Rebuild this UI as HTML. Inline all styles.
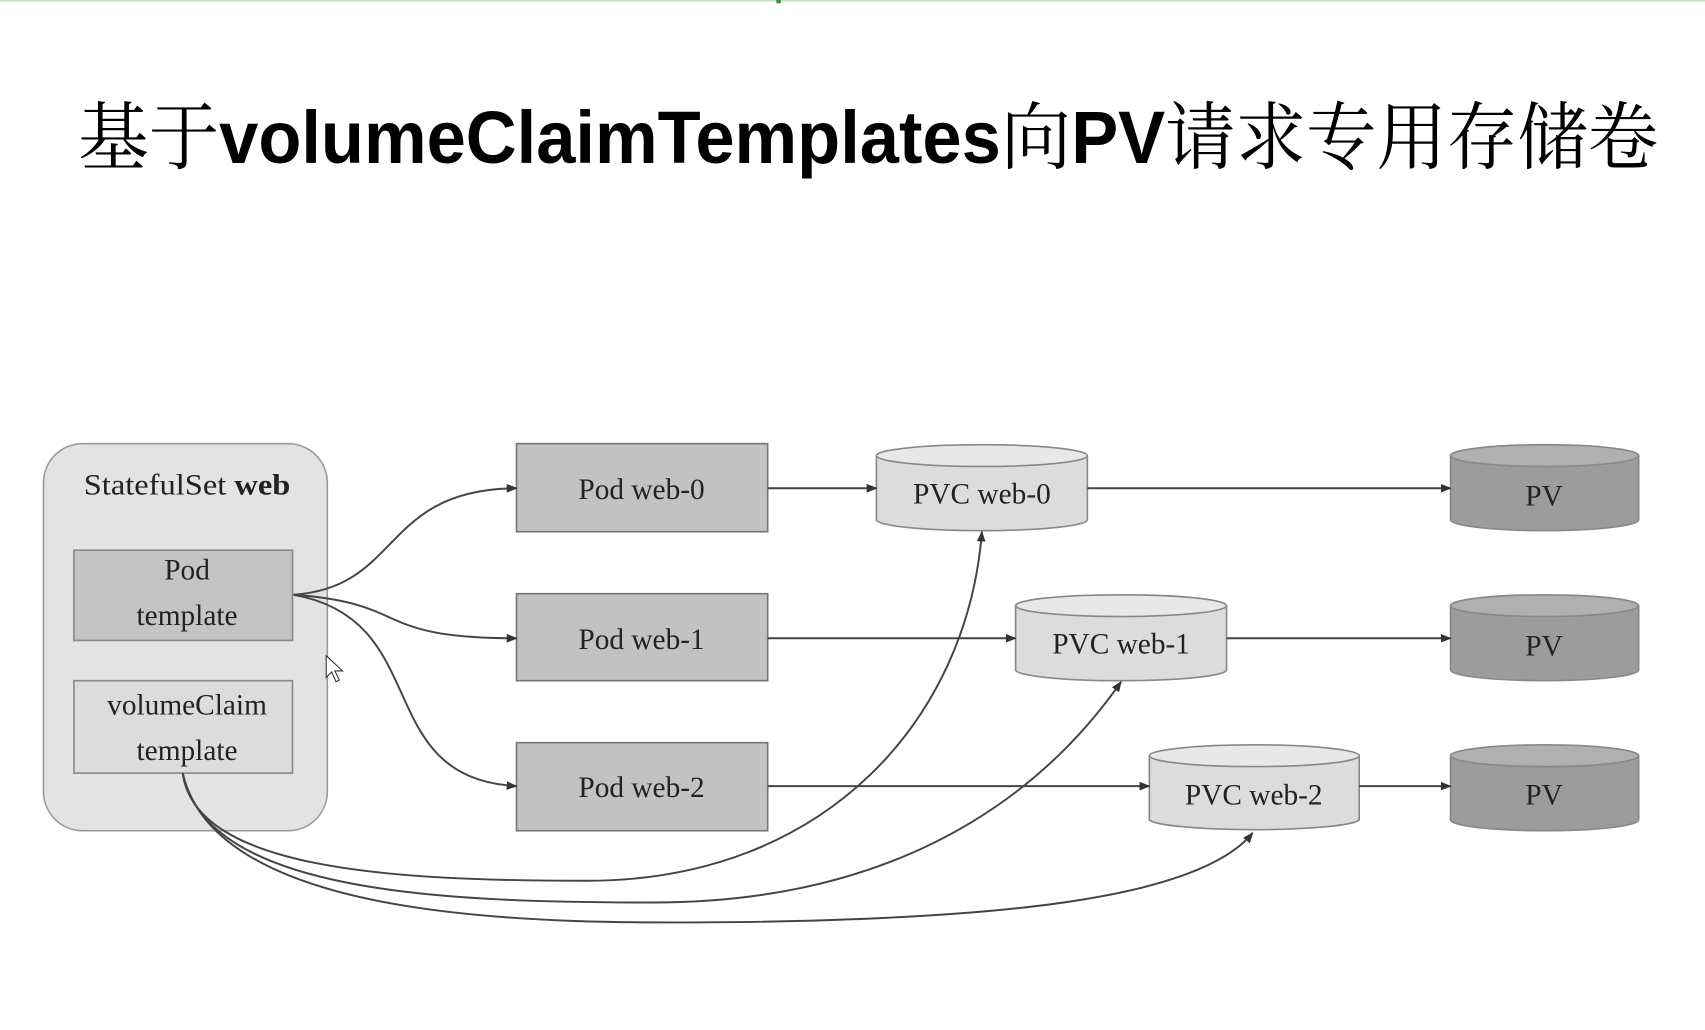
<!DOCTYPE html>
<html><head><meta charset="utf-8"><style>
html,body{margin:0;padding:0;background:#fff;width:1705px;height:1030px;overflow:hidden}
svg{display:block}
.t{font-family:"Liberation Serif","Noto Serif CJK SC",serif;font-size:27px;fill:#222;text-anchor:middle}
</style></head><body>
<svg width="1705" height="1030" viewBox="0 0 1568 947.25" xmlns="http://www.w3.org/2000/svg">
<defs>
<marker id="a" markerWidth="10" markerHeight="10" refX="9" refY="5" orient="auto" markerUnits="userSpaceOnUse"><path d="M0,1 L10,5 L0,9 z" fill="#333"/></marker>
</defs>
<line x1="0" y1="0.8" x2="1568" y2="0.8" stroke="#bfe3c0" stroke-width="1.5"/>
<rect x="714" y="0" width="4" height="3" fill="#2a9a2a"/>
<text x="72" y="150" font-size="68" textLength="1453" lengthAdjust="spacingAndGlyphs" fill="#000"><tspan font-family="Noto Serif CJK SC,serif">基于</tspan><tspan font-family="Liberation Sans,sans-serif" font-weight="bold">volumeClaimTemplates</tspan><tspan font-family="Noto Serif CJK SC,serif">向</tspan><tspan font-family="Liberation Sans,sans-serif" font-weight="bold">PV</tspan><tspan font-family="Noto Serif CJK SC,serif">请求专用存储卷</tspan></text>

<rect x="40" y="408" width="261" height="356" rx="36" fill="#e3e3e3" stroke="#9a9a9a" stroke-width="1.5"/>
<text class="t" x="172" y="455" textLength="190" lengthAdjust="spacingAndGlyphs">StatefulSet <tspan font-weight="bold">web</tspan></text>
<rect x="68" y="506" width="201" height="83" fill="#c4c4c4" stroke="#8a8a8a" stroke-width="1.5"/>
<text class="t" x="172" y="533">Pod</text><text class="t" x="172" y="575">template</text>
<rect x="68" y="626" width="201" height="85" fill="#dcdcdc" stroke="#8a8a8a" stroke-width="1.5"/>
<text class="t" x="172" y="657">volumeClaim</text><text class="t" x="172" y="699">template</text>

<g fill="#c2c2c2" stroke="#777" stroke-width="1.5">
<rect x="475" y="408" width="231" height="81"/>
<rect x="475" y="546" width="231" height="80"/>
<rect x="475" y="683" width="231" height="81"/>
</g>
<text class="t" x="590" y="459">Pod web-0</text>
<text class="t" x="590" y="597">Pod web-1</text>
<text class="t" x="590" y="733">Pod web-2</text>

<g stroke="#888" stroke-width="1.5">
<path d="M806,419 V478 A97,10 0 0 0 1000,478 V419" fill="#dcdcdc"/><ellipse cx="903" cy="419" rx="97" ry="10" fill="#e8e8e8"/>
<path d="M934,557 V616 A97,10 0 0 0 1128,616 V557" fill="#dcdcdc"/><ellipse cx="1031" cy="557" rx="97" ry="10" fill="#e8e8e8"/>
<path d="M1057,695 V754 A97,10 0 0 0 1250,754 V695" fill="#dcdcdc"/><ellipse cx="1153.5" cy="695" rx="96.5" ry="10" fill="#e8e8e8"/>
<path d="M1334,419 V478 A86.5,10 0 0 0 1507,478 V419" fill="#9c9c9c"/><ellipse cx="1420.5" cy="419" rx="86.5" ry="10" fill="#b0b0b0"/>
<path d="M1334,557 V616 A86.5,10 0 0 0 1507,616 V557" fill="#9c9c9c"/><ellipse cx="1420.5" cy="557" rx="86.5" ry="10" fill="#b0b0b0"/>
<path d="M1334,695 V754 A86.5,10 0 0 0 1507,754 V695" fill="#9c9c9c"/><ellipse cx="1420.5" cy="695" rx="86.5" ry="10" fill="#b0b0b0"/>
</g>
<text class="t" x="903" y="463">PVC web-0</text>
<text class="t" x="1031" y="601">PVC web-1</text>
<text class="t" x="1153" y="740">PVC web-2</text>
<text class="t" x="1420" y="465">PV</text>
<text class="t" x="1420" y="603">PV</text>
<text class="t" x="1420" y="740">PV</text>

<g fill="none" stroke="#444" stroke-width="1.8" marker-end="url(#a)">
<line x1="706" y1="449" x2="806" y2="449"/>
<line x1="1000" y1="449" x2="1334" y2="449"/>
<line x1="706" y1="587" x2="934" y2="587"/>
<line x1="1128" y1="587" x2="1334" y2="587"/>
<line x1="706" y1="723" x2="1057" y2="723"/>
<line x1="1250" y1="723" x2="1334" y2="723"/>
<path d="M270,547 C370,540 350,450 475,449"/>
<path d="M270,547 C380,555 340,587 475,587"/>
<path d="M270,547 C400,570 340,715 475,723"/>
<path d="M168,711 C180,800 360,810 540,810 C760,810 890,660 903,489"/>
<path d="M168,711 C190,820 400,830 600,830 C860,830 980,700 1031,627"/>
<path d="M168,711 C200,850 500,850 680,848 C900,845 1100,830 1152,766"/>
</g>
<path d="M300,603 l0,20 l5,-5 l4,9 l3,-1.5 l-4,-8.5 l7,0 z" fill="#fff" stroke="#333" stroke-width="1"/>
</svg>
</body></html>
